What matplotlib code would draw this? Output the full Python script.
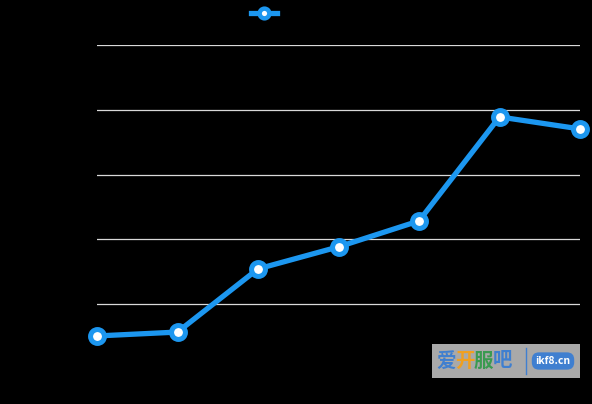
import matplotlib.pyplot as plt
from matplotlib.patches import FancyBboxPatch

plt.rcParams['font.family'] = ['Noto Sans CJK SC', 'DejaVu Sans']

# data (axis text is black on black in the original)
categories = ['1', '2', '3', '4', '5', '6', '7']
values = [10.2, 11.4, 30.9, 37.7, 45.7, 77.8, 74.1]
y_ticks = [0, 20, 40, 60, 80, 100]

blue = '#1c97f0'

fig = plt.figure(figsize=(5.92, 4.04), dpi=100, facecolor='black')
ax = fig.add_axes([97 / 592, 1 - 369 / 404, (580 - 97) / 592, (369 - 45) / 404])
ax.set_facecolor('black')

x = range(len(categories))
ax.plot(x, values, color=blue, linewidth=3.8, marker='o', markersize=10,
        markerfacecolor='white', markeredgecolor=blue, markeredgewidth=3.6,
        clip_on=False, zorder=3, label='系列1')

ax.set_xlim(0, len(categories) - 1)
ax.set_ylim(0, 100)
ax.set_yticks(y_ticks)
ax.set_xticks(list(x))
ax.set_xticklabels(categories, color='black')
ax.tick_params(colors='black', length=0)
ax.grid(axis='y', color='#d9d9d9', linewidth=0.9)
ax.get_ygridlines()[0].set_visible(False)
ax.set_axisbelow(True)
for s in ax.spines.values():
    s.set_visible(False)

leg = fig.legend(loc='center left', bbox_to_anchor=(238 / 592, 1 - 14 / 404),
                 frameon=False, labelcolor='black', handlelength=1.9)
h = leg.legend_handles[0]
h.set_markersize(7)
h.set_markeredgewidth(3.2)

# watermark box in the lower right
fig.patches.append(FancyBboxPatch((432 / 592, 1 - 378 / 404), 148 / 592, 34 / 404,
                                  boxstyle='square,pad=0', transform=fig.transFigure,
                                  facecolor='#a9a9a9', edgecolor='none', zorder=5))
fig.text(436 / 592, 1 - 361 / 404, '爱', color='#3f7fd0', fontsize=14, fontweight='bold',
         va='center', zorder=6)
fig.text(455 / 592, 1 - 361 / 404, '开', color='#f0a020', fontsize=14, fontweight='bold',
         va='center', zorder=6)
fig.text(474 / 592, 1 - 361 / 404, '服', color='#3a9a50', fontsize=14, fontweight='bold',
         va='center', zorder=6)
fig.text(493 / 592, 1 - 361 / 404, '吧', color='#3f7fd0', fontsize=14, fontweight='bold',
         va='center', zorder=6)
fig.lines.append(plt.Line2D([526 / 592, 526 / 592], [1 - 348 / 404, 1 - 374 / 404],
                            transform=fig.transFigure, color='#3f7fd0', linewidth=1, zorder=6))
fig.text(553 / 592, 1 - 361 / 404, 'ikf8.cn', color='white', fontsize=7.5, fontweight='bold',
         ha='center', va='center', zorder=7,
         bbox=dict(boxstyle='round,pad=0.35,rounding_size=0.7', facecolor='#3f7fd0',
                   edgecolor='none'))

fig.savefig('out.png', dpi=100, facecolor='black')
